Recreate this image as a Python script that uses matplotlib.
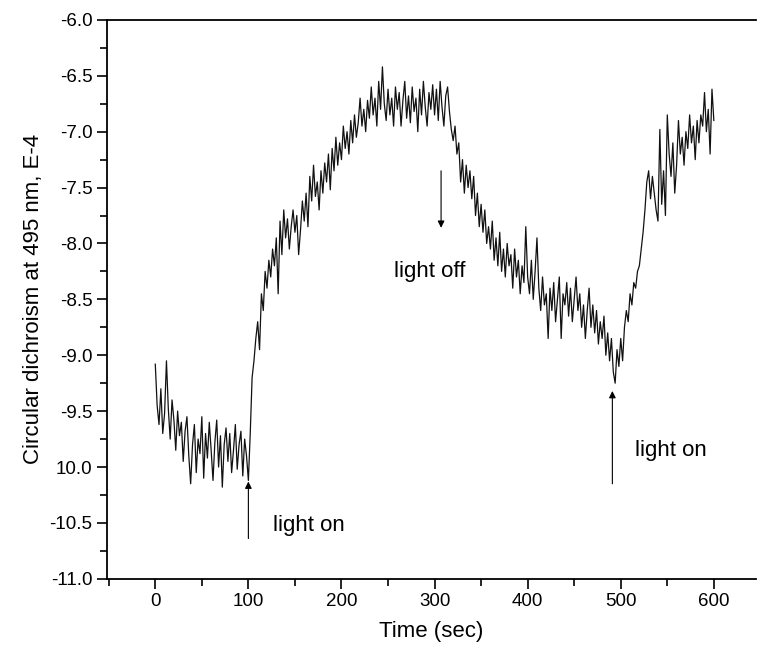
import numpy as np
import matplotlib
matplotlib.use("Agg")
import matplotlib.pyplot as plt
from matplotlib.ticker import MultipleLocator

plt.rcParams['font.family'] = ['Liberation Sans', 'DejaVu Sans']

# Time axis, 2-second sampling
time_sec = np.arange(0, 602, 2)

cd_signal = [
    -9.08, -9.45, -9.62, -9.30, -9.70, -9.52, -9.05, -9.48, -9.75, -9.40,
    -9.58, -9.85, -9.50, -9.72, -9.60, -9.95, -9.68, -9.55, -9.90, -10.15,
    -9.80, -9.62, -10.05, -9.75, -9.88, -9.55, -10.10, -9.70, -9.92, -9.60,
    -9.85, -10.12, -9.78, -9.58, -10.00, -9.72, -10.18, -9.80, -9.65, -9.95,
    -9.70, -10.05, -9.85, -9.62, -10.02, -9.80, -9.68, -10.08, -9.75, -9.90,
    -10.12, -9.70, -9.20, -9.05, -8.85, -8.70, -8.95, -8.45, -8.60, -8.25,
    -8.40, -8.15, -8.30, -8.05, -8.20, -7.95, -8.45, -7.80, -8.10, -7.70,
    -7.95, -7.78, -8.05, -7.85, -7.70, -7.90, -7.75, -8.10, -7.88, -7.62,
    -7.80, -7.55, -7.85, -7.40, -7.62, -7.30, -7.58, -7.45, -7.70, -7.35,
    -7.55, -7.28, -7.45, -7.20, -7.52, -7.15, -7.35, -7.05, -7.30, -7.10,
    -7.25, -6.95, -7.15, -7.00, -7.20, -6.90, -7.10, -6.85, -7.05, -6.92,
    -6.70, -6.95, -6.80, -7.00, -6.72, -6.88, -6.60, -6.85, -6.70, -6.95,
    -6.55, -6.80, -6.42, -6.75, -6.90, -6.62, -6.85, -6.70, -6.95, -6.60,
    -6.80, -6.65, -6.95, -6.72, -6.55, -6.88, -6.68, -6.92, -6.60, -6.82,
    -6.70, -7.00, -6.62, -6.85, -6.55, -6.78, -6.95, -6.65, -6.80, -6.58,
    -6.85, -6.62, -6.90, -6.55, -6.78, -6.95, -6.68, -6.60, -6.82, -6.98,
    -7.08, -6.95, -7.20, -7.10, -7.45, -7.25, -7.55, -7.30, -7.50, -7.35,
    -7.60, -7.40, -7.75, -7.55, -7.85, -7.65, -7.90, -7.70, -8.00, -7.85,
    -8.05, -7.80, -8.15, -7.95, -8.20, -7.90, -8.25, -8.05, -8.30, -8.00,
    -8.20, -8.10, -8.40, -8.05, -8.30, -8.15, -8.45, -8.20, -8.35, -7.85,
    -8.30, -8.45, -8.15, -8.50, -8.25, -7.95, -8.40, -8.60, -8.30, -8.55,
    -8.45, -8.85, -8.40, -8.60, -8.35, -8.70, -8.50, -8.30, -8.85, -8.45,
    -8.55, -8.35, -8.65, -8.40, -8.70, -8.50, -8.30, -8.60, -8.45, -8.75,
    -8.55, -8.85, -8.60, -8.40, -8.75, -8.55, -8.80, -8.60, -8.90, -8.70,
    -8.85, -8.65, -9.00, -8.80, -9.05, -8.85, -9.15, -9.25, -8.95, -9.10,
    -8.85, -9.05, -8.75, -8.60, -8.70, -8.45, -8.55, -8.35, -8.40, -8.25,
    -8.20, -8.05, -7.90, -7.70, -7.45, -7.35, -7.60, -7.40, -7.55, -7.70,
    -7.80, -6.98, -7.65, -7.35, -7.75, -6.85, -7.20, -7.40, -7.10, -7.55,
    -7.30, -6.90, -7.20, -7.05, -7.30, -7.00, -7.15, -6.85, -7.10, -6.95,
    -7.25, -6.90, -7.10, -6.85, -6.95, -6.65, -7.00, -6.80, -7.20, -6.62,
    -6.90,
]

x_ticks = [0, 100, 200, 300, 400, 500, 600]
y_ticks = [-6.0, -6.5, -7.0, -7.5, -8.0, -8.5, -9.0, -9.5, -10.0, -10.5, -11.0]
y_tick_labels = ["-6.0", "-6.5", "-7.0", "-7.5", "-8.0", "-8.5", "-9.0",
                 "-9.5", "10.0", "-10.5", "-11.0"]

annotations = [
    # (text, arrow x, arrow tail y, arrow head y, text x, text y)
    ("light on", 100, -10.64, -10.13, 126, -10.52),
    ("light off", 307, -7.35, -7.86, 256, -8.25),
    ("light on", 491, -10.15, -9.32, 515, -9.85),
]

fig = plt.figure(figsize=(7.58, 6.63), dpi=100)
ax = fig.add_axes([0.141, 0.127, 0.856, 0.843])

ax.plot(time_sec, cd_signal, color="#111111", lw=0.9)

ax.set_xlim(-52, 645)
ax.set_ylim(-11.0, -6.0)
ax.set_xticks(x_ticks)
ax.xaxis.set_minor_locator(MultipleLocator(50))
ax.set_yticks(y_ticks)
ax.set_yticklabels(y_tick_labels)
ax.yaxis.set_minor_locator(MultipleLocator(0.25))

ax.spines['right'].set_visible(False)
for s in ['left', 'bottom', 'top']:
    ax.spines[s].set_linewidth(1.3)

ax.tick_params(axis='both', which='major', direction='out', length=7, width=1.2,
               labelsize=13.5)
ax.tick_params(axis='both', which='minor', direction='out', length=5, width=1.2)
ax.tick_params(top=False, right=False, which='both')

ax.set_xlabel("Time (sec)", fontsize=16, labelpad=8)
ax.set_ylabel("Circular dichroism at 495 nm, E-4", fontsize=16, labelpad=4)

for text, xa, ytail, yhead, xt, yt in annotations:
    ax.annotate("", xy=(xa, yhead), xytext=(xa, ytail),
                arrowprops=dict(arrowstyle="-|>", color="black", lw=0.8,
                                mutation_scale=10, shrinkA=0, shrinkB=0))
    ax.text(xt, yt, text, fontsize=16, va="center", ha="left")

fig.savefig("out.png", dpi=100)
